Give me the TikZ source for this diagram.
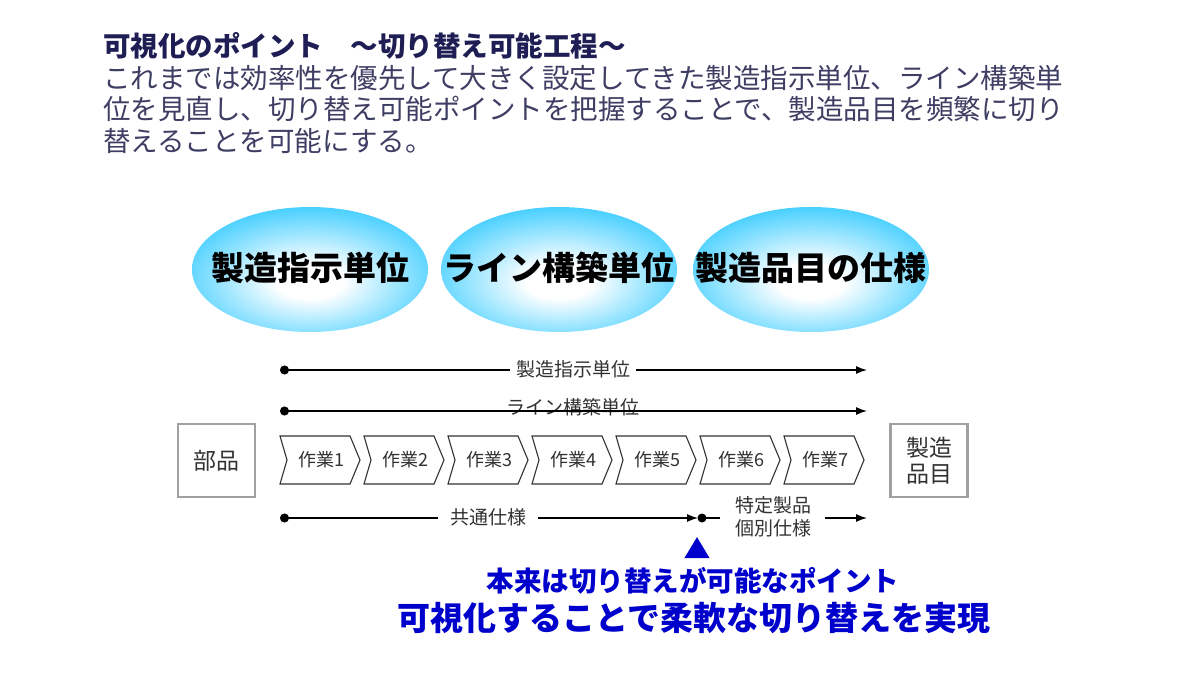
\documentclass[tikz,border=0pt]{standalone}
\usepackage{fontspec}
\setmainfont{Noto Sans CJK JP}
\usetikzlibrary{arrows.meta,shapes.geometric}
\definecolor{titlec}{RGB}{30,30,85}
\definecolor{bodyc}{RGB}{62,62,100}
\definecolor{ecyan}{RGB}{35,198,255}
\definecolor{bluec}{RGB}{0,0,204}
\definecolor{boxc}{RGB}{160,160,160}
\definecolor{txtc}{RGB}{50,50,50}
\pgfdeclareradialshading{ellshade}{\pgfpoint{0bp}{-5bp}}{color(0bp)=(white); color(7bp)=(white); color(33bp)=(ecyan); color(100bp)=(ecyan)}
\begin{document}
\begin{tikzpicture}[x=1pt,y=-1pt,
  title/.style={anchor=west, inner sep=0, font=\fontsize{27.5}{30}\selectfont\bfseries, text=titlec},
  body/.style={anchor=west, inner sep=0, font=\fontsize{27.5}{30}\selectfont, text=bodyc},
  oval/.style={ellipse, minimum width=236, minimum height=125, inner sep=0, shading=ellshade},
  ovaltext/.style={inner sep=0, font=\fontsize{33}{36}\selectfont\bfseries, text=black},
  lab/.style={inner sep=0, font=\fontsize{19}{23}\selectfont, text=txtc, align=center},
  conn/.style={line width=1.3, black},
  tipend/.style={-{Latex[length=11,width=8]}},
  tipboth/.style={{Circle[length=9]}-{Latex[length=11,width=8]}},
  part/.style={draw=boxc, line width=2.5, fill=white, minimum width=77, minimum height=73, inner sep=0, font=\fontsize{23}{30}\selectfont, text=txtc, align=center},
  chev/.style={draw=black!80, line width=1.1, fill=white},
  chevtext/.style={inner sep=0, font=\fontsize{18}{20}\selectfont, text=txtc},
  blue1/.style={inner sep=0, font=\fontsize{27.5}{30}\selectfont\bfseries, text=bluec},
  blue2/.style={inner sep=0, font=\fontsize{33}{36}\selectfont\bfseries, text=bluec}
]
\useasboundingbox (0,0) rectangle (1185,680);
\fill[white] (0,0) rectangle (1185,680);

% heading text
\node[title] (t0) at (103,46) {可視化のポイント　～切り替え可能工程～};
\node[body] (t1) at (103,78) {これまでは効率性を優先して大きく設定してきた製造指示単位、ライン構築単};
\node[body] (t2) at (103,109) {位を見直し、切り替え可能ポイントを把握することで、製造品目を頻繁に切り};
\node[body] (t3) at (103,141) {替えることを可能にする。};

% ovals
\node[oval] (o1) at (310,269.5) {};
\node[oval] (o2) at (559,269.5) {};
\node[oval] (o3) at (811,269.5) {};
\node[ovaltext] (o1t) at (310,268) {製造指示単位};
\node[ovaltext] (o2t) at (559,268) {ライン構築単位};
\node[ovaltext] (o3t) at (811,268) {製造品目の仕様};

% row 1
\coordinate (a1) at (280,370);
\coordinate (b1) at (867,370);
\draw[conn, tipboth] (a1) -- (b1);
\node[lab, fill=white, inner xsep=6, inner ysep=2] (l1) at (573,369) {製造指示単位};

% row 2
\coordinate (a2) at (280,411);
\coordinate (b2) at (867,411);
\node[lab] (l2) at (573,407) {ライン構築単位};
\draw[conn, tipboth] (a2) -- (b2);

% boxes
\node[part] (p1) at (216.5,460.5) {部品};
\node[part] (p2) at (929,460.5) {製造\\[-4pt]品目};

% chevrons
\foreach \i in {1,...,7}{
  \pgfmathsetmacro{\xo}{280+84*(\i-1)}
  \draw[chev] (\xo,436) -- (\xo+70,436) -- (\xo+80,460) -- (\xo+70,484) -- (\xo,484) -- (\xo+7,460) -- cycle;
  \node[chevtext] (w\i) at (\xo+41,460) {作業\i};
}

% row 3
\coordinate (a3) at (280,518);
\coordinate (b3) at (698,518);
\coordinate (c3) at (702,518);
\coordinate (d3) at (720,518);
\coordinate (e3) at (867,518);
\draw[conn, tipboth] (a3) -- (b3);
\node[lab, fill=white, inner xsep=12, inner ysep=2] (l3) at (488,517) {共通仕様};
\fill[black] (c3) circle (4.5);
\draw[conn] (c3) -- (d3);
\node[lab] (l4) at (773,516.5) {特定製品\\個別仕様};
\coordinate (f3) at (825,518);
\draw[conn, tipend] (f3) -- (e3);

% switch point
\node[isosceles triangle, isosceles triangle apex angle=62, shape border rotate=90, fill=bluec, inner sep=0, minimum height=21, minimum width=25] (tri) at (697,551) {};
\node[blue1] (m1) at (693,581) {本来は切り替えが可能なポイント};
\node[blue2] (m2) at (694,618) {可視化することで柔軟な切り替えを実現};
\end{tikzpicture}
\end{document}
